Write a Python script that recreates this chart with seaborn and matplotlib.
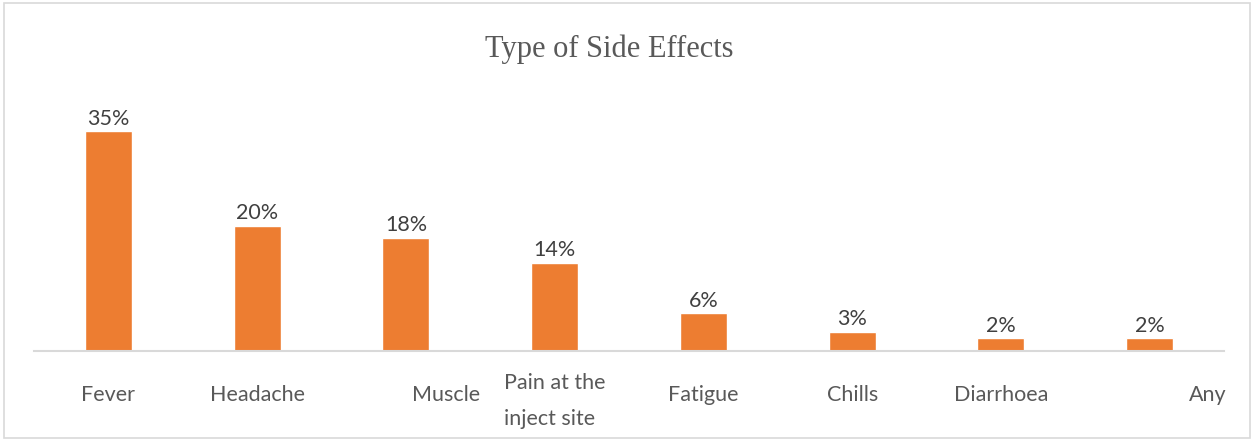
import matplotlib
matplotlib.use("Agg")
import matplotlib.pyplot as plt
import matplotlib.transforms as mtransforms
from matplotlib.patches import Rectangle
import seaborn as sns

# Share of respondents reporting each side effect
categories = ["Fever", "Headache", "Muscle", "Pain at the\ninject site",
              "Fatigue", "Chills", "Diarrhoea", "Any"]
values = [35, 20, 18, 14, 6, 3, 2, 2]
value_labels = ["35%", "20%", "18%", "14%", "6%", "3%", "2%", "2%"]
title = "Type of Side Effects"

# Horizontal placement of each category label under its slot
label_align = ["center", "center", "right", "center",
               "center", "center", "center", "right"]

sns.set_theme(style="white")
plt.rcParams["font.family"] = ["Lato", "DejaVu Sans"]

W, H = 1254, 441
fig = plt.figure(figsize=(W / 100, H / 100), dpi=100)
ax = fig.add_axes([34 / W, (H - 351) / H, (1224 - 34) / W, (351 - 100) / H])

sns.barplot(x=list(range(len(categories))), y=values, color="#ED7D31",
            width=0.316, saturation=1, ax=ax, native_scale=False)

ax.set_ylim(0, 40)
ax.set_xlim(-0.5, len(categories) - 0.5)
ax.set_yticks([])
ax.set_xticks([])
ax.set_xlabel("")
ax.set_ylabel("")
for side in ["top", "left", "right"]:
    ax.spines[side].set_visible(False)
ax.spines["bottom"].set_color("#D9D9D9")
ax.spines["bottom"].set_linewidth(1.5)

ax.bar_label(ax.containers[0], labels=value_labels, padding=2,
             fontsize=15.5, color="#404040")

# Category labels below the axis line
trans = mtransforms.blended_transform_factory(ax.transData, ax.transAxes)
for i, (lab, al) in enumerate(zip(categories, label_align)):
    xpos = i + 0.5 if al == "right" else i
    dx = 3 if al == "right" and i == len(categories) - 1 else 0
    dy = -50 if "\n" in lab else -44
    off = mtransforms.ScaledTranslation(dx / 100, dy / 100, fig.dpi_scale_trans)
    ax.text(xpos, 0, lab, transform=trans + off, ha=al, va="center",
            multialignment="left", fontsize=15.5, color="#595959",
            linespacing=2.0)

fig.text(609 / W, (H - 49) / H, title, ha="center", va="center",
         fontsize=22, color="#595959", family="Liberation Serif")

# Chart frame
fig.patches.append(Rectangle((4 / W, 3 / H), (W - 8) / W, (H - 6) / H,
                             transform=fig.transFigure, fill=False,
                             edgecolor="#D9D9D9", linewidth=1.2))

fig.savefig("out.png", dpi=100)
